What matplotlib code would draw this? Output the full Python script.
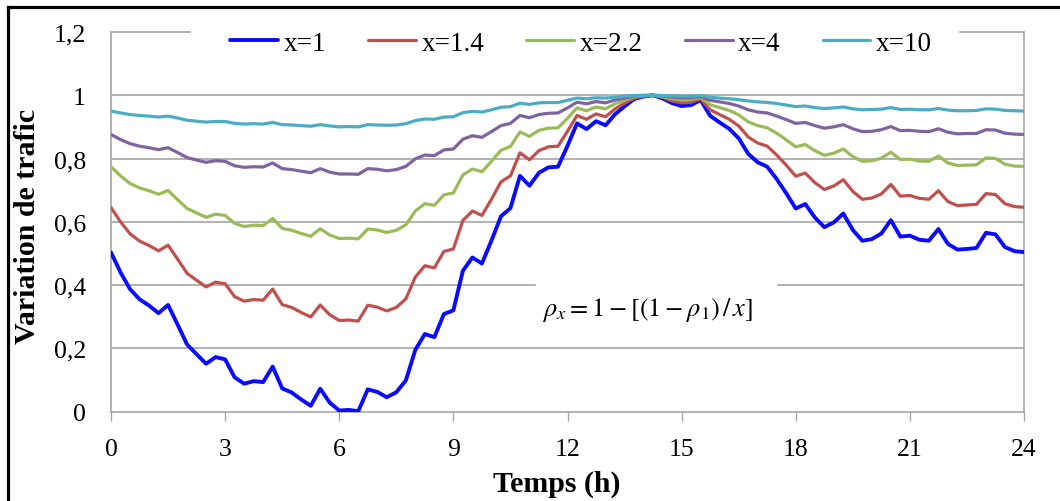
import matplotlib
matplotlib.use('Agg')
import matplotlib.pyplot as plt
from matplotlib.lines import Line2D
import numpy as np

# time axis, one reading every quarter hour
hours = np.arange(0, 24.01, 0.25)

# x = 1
rho_1 = [0.503, 0.440, 0.387, 0.355, 0.335, 0.311, 0.337, 0.275,
         0.212, 0.181, 0.151, 0.172, 0.165, 0.108, 0.088, 0.096,
         0.093, 0.142, 0.073, 0.060, 0.038, 0.018, 0.072, 0.028,
         0.003, 0.005, 0.001, 0.070, 0.062, 0.045, 0.061, 0.098,
         0.195, 0.245, 0.235, 0.308, 0.320, 0.445, 0.487, 0.468,
         0.540, 0.617, 0.643, 0.745, 0.714, 0.755, 0.772, 0.774,
         0.840, 0.911, 0.893, 0.918, 0.905, 0.940, 0.965, 0.988,
         0.996, 1.000, 0.990, 0.975, 0.966, 0.969, 0.985, 0.935,
         0.914, 0.894, 0.864, 0.815, 0.788, 0.774, 0.735, 0.690,
         0.642, 0.656, 0.614, 0.583, 0.598, 0.626, 0.574, 0.540,
         0.545, 0.563, 0.605, 0.553, 0.556, 0.543, 0.540, 0.577,
         0.530, 0.512, 0.514, 0.517, 0.565, 0.560, 0.520, 0.507,
         0.504]

# x = 1.4
rho_14 = [0.645, 0.600, 0.562, 0.539, 0.525, 0.508, 0.526, 0.482,
          0.437, 0.415, 0.394, 0.409, 0.404, 0.363, 0.349, 0.354,
          0.352, 0.387, 0.338, 0.329, 0.313, 0.299, 0.337, 0.306,
          0.288, 0.289, 0.286, 0.336, 0.330, 0.318, 0.329, 0.356,
          0.425, 0.461, 0.454, 0.506, 0.514, 0.604, 0.634, 0.620,
          0.671, 0.726, 0.745, 0.818, 0.796, 0.825, 0.837, 0.839,
          0.886, 0.936, 0.924, 0.941, 0.932, 0.957, 0.975, 0.991,
          0.997, 1.000, 0.993, 0.982, 0.976, 0.978, 0.989, 0.954,
          0.939, 0.924, 0.903, 0.868, 0.849, 0.839, 0.811, 0.779,
          0.744, 0.754, 0.724, 0.702, 0.713, 0.733, 0.696, 0.671,
          0.675, 0.688, 0.718, 0.681, 0.683, 0.674, 0.671, 0.698,
          0.664, 0.651, 0.653, 0.655, 0.689, 0.686, 0.657, 0.648,
          0.646]

# x = 2.2
rho_22 = [0.774, 0.745, 0.721, 0.707, 0.698, 0.687, 0.699, 0.670,
          0.642, 0.628, 0.614, 0.624, 0.620, 0.595, 0.585, 0.589,
          0.588, 0.610, 0.579, 0.573, 0.563, 0.554, 0.578, 0.558,
          0.547, 0.548, 0.546, 0.577, 0.574, 0.566, 0.573, 0.590,
          0.634, 0.657, 0.652, 0.685, 0.691, 0.748, 0.767, 0.758,
          0.791, 0.826, 0.838, 0.884, 0.870, 0.889, 0.896, 0.897,
          0.927, 0.960, 0.951, 0.963, 0.957, 0.973, 0.984, 0.995,
          0.998, 1.000, 0.995, 0.989, 0.985, 0.986, 0.993, 0.970,
          0.961, 0.952, 0.938, 0.916, 0.904, 0.897, 0.880, 0.859,
          0.837, 0.844, 0.825, 0.810, 0.817, 0.830, 0.806, 0.791,
          0.793, 0.801, 0.820, 0.797, 0.798, 0.792, 0.791, 0.808,
          0.786, 0.778, 0.779, 0.780, 0.802, 0.800, 0.782, 0.776,
          0.775]

# x = 4
rho_4 = [0.876, 0.860, 0.847, 0.839, 0.834, 0.828, 0.834, 0.819,
         0.803, 0.795, 0.788, 0.793, 0.791, 0.777, 0.772, 0.774,
         0.773, 0.786, 0.768, 0.765, 0.760, 0.755, 0.768, 0.757,
         0.751, 0.751, 0.750, 0.768, 0.766, 0.761, 0.765, 0.775,
         0.799, 0.811, 0.809, 0.827, 0.830, 0.861, 0.872, 0.867,
         0.885, 0.904, 0.911, 0.936, 0.929, 0.939, 0.943, 0.944,
         0.960, 0.978, 0.973, 0.980, 0.976, 0.985, 0.991, 0.997,
         0.999, 1.000, 0.998, 0.994, 0.992, 0.992, 0.996, 0.984,
         0.979, 0.974, 0.966, 0.954, 0.947, 0.944, 0.934, 0.923,
         0.911, 0.914, 0.904, 0.896, 0.900, 0.907, 0.894, 0.885,
         0.886, 0.891, 0.901, 0.888, 0.889, 0.886, 0.885, 0.894,
         0.883, 0.878, 0.879, 0.879, 0.891, 0.890, 0.880, 0.877,
         0.876]

# x = 10
rho_10 = [0.950, 0.944, 0.939, 0.936, 0.934, 0.931, 0.934, 0.928,
          0.921, 0.918, 0.915, 0.917, 0.917, 0.911, 0.909, 0.910,
          0.909, 0.914, 0.907, 0.906, 0.904, 0.902, 0.907, 0.903,
          0.900, 0.901, 0.900, 0.907, 0.906, 0.905, 0.906, 0.910,
          0.920, 0.925, 0.924, 0.931, 0.932, 0.945, 0.949, 0.947,
          0.954, 0.962, 0.964, 0.975, 0.971, 0.976, 0.977, 0.977,
          0.984, 0.991, 0.989, 0.992, 0.991, 0.994, 0.997, 0.999,
          1.000, 1.000, 0.999, 0.998, 0.997, 0.997, 0.999, 0.994,
          0.991, 0.989, 0.986, 0.982, 0.979, 0.977, 0.974, 0.969,
          0.964, 0.966, 0.961, 0.958, 0.960, 0.963, 0.957, 0.954,
          0.955, 0.956, 0.961, 0.955, 0.956, 0.954, 0.954, 0.958,
          0.953, 0.951, 0.951, 0.952, 0.957, 0.956, 0.952, 0.951,
          0.950]

series_labels = ['x=1', 'x=1.4', 'x=2.2', 'x=4', 'x=10']
series_values = [rho_1, rho_14, rho_22, rho_4, rho_10]
series_colors = ['#0A0AFF', '#C0504D', '#9BBB59', '#8064A2', '#4BACC6']
series_widths = [2.8, 2.3, 2.3, 2.3, 2.3]

x_ticks = [0, 3, 6, 9, 12, 15, 18, 21, 24]
y_ticks = [0, 0.2, 0.4, 0.6, 0.8, 1.0, 1.2]
y_tick_labels = ['0', '0,2', '0,4', '0,6', '0,8', '1', '1,2']

plt.rcParams['font.family'] = ['Liberation Serif', 'DejaVu Serif']
plt.rcParams['mathtext.fontset'] = 'stix'

grid_color = '#A6A6A6'

fig = plt.figure(figsize=(10.6, 5.02), dpi=100)
ax = fig.add_axes([111 / 1060, 1 - 412.5 / 502, 913 / 1060, 379.5 / 502])

# horizontal gridlines (the top one and 0,4 are interrupted by legend / formula box)
for v in [0.2, 0.6, 0.8, 1.0]:
    ax.axhline(v, color=grid_color, lw=1.2, zorder=1)
ax.axhline(0.4, xmin=0, xmax=0.464, color=grid_color, lw=1.2, zorder=1)
ax.axhline(0.4, xmin=0.731, xmax=1, color=grid_color, lw=1.2, zorder=1)
ax.axhline(1.2, xmin=0, xmax=0.0865, color=grid_color, lw=1.2, zorder=1, clip_on=False)
ax.axhline(1.2, xmin=0.930, xmax=1, color=grid_color, lw=1.2, zorder=1, clip_on=False)

for vals, lab, col, w in zip(series_values, series_labels, series_colors, series_widths):
    ax.plot(hours, vals, color=col, lw=w, label=lab, solid_joinstyle='round',
            solid_capstyle='round', zorder=3)

ax.set_xlim(0, 24)
ax.set_ylim(0, 1.2)
ax.set_xticks(x_ticks)
ax.set_yticks(y_ticks)
ax.set_yticklabels(y_tick_labels)
ax.tick_params(axis='x', direction='out', length=6.8, width=1, color=grid_color,
               labelsize=18.5, pad=12)
ax.tick_params(axis='y', length=0, labelsize=18.5, pad=18)

for side in ['left', 'right', 'bottom']:
    ax.spines[side].set_color(grid_color)
    ax.spines[side].set_linewidth(1.2)
ax.spines['top'].set_visible(False)

ax.legend(loc='center', bbox_to_anchor=(0.515, 0.971), ncol=5, frameon=False,
          fontsize=19.5, handlelength=1.77, handletextpad=0.2, columnspacing=1.55,
          borderpad=0, borderaxespad=0)

ax.text(14.1, 0.325, r'$\rho_x = 1 - \left[(1 - \rho_1)\,/\,x\right]$',
        ha='center', va='center', fontsize=19)

fig.text(557 / 1060, 1 - 484 / 502, 'Temps (h)', ha='center', va='center',
         fontsize=21.5, fontweight='bold')
fig.text(28 / 1060, 1 - 226 / 502, 'Variation de trafic', ha='center', va='center',
         rotation=90, fontsize=21.5, fontweight='bold')

# black frame around the picture (left and top edges)
fig.add_artist(Line2D([7.5 / 1060, 7.5 / 1060], [0, 1 - 7.5 / 502],
                      transform=fig.transFigure, color='black', lw=2.3))
fig.add_artist(Line2D([7.5 / 1060, 1], [1 - 7.5 / 502, 1 - 7.5 / 502],
                      transform=fig.transFigure, color='black', lw=2.3))

fig.savefig('out.png', dpi=100)
